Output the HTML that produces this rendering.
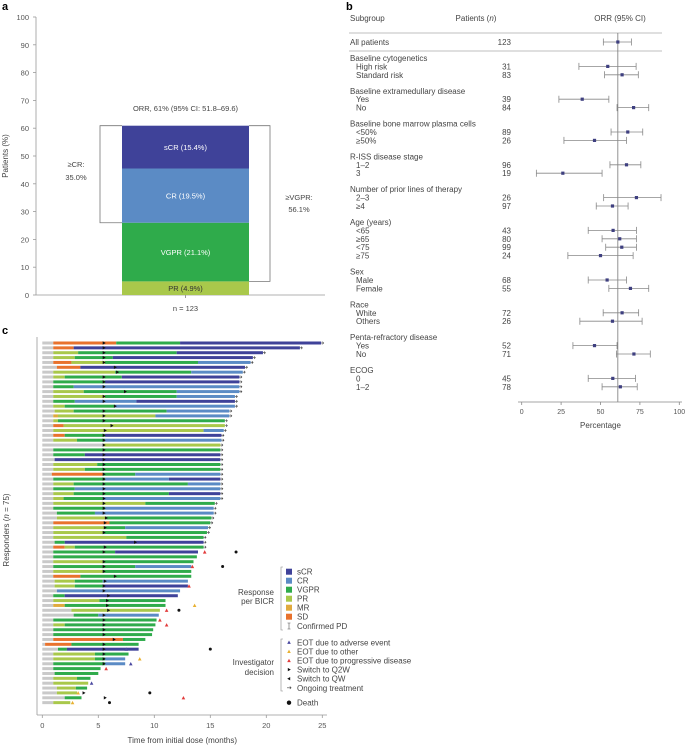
<!DOCTYPE html>
<html><head><meta charset="utf-8">
<style>
html,body{margin:0;padding:0;background:#fff;}
svg{display:block;font-family:"Liberation Sans",sans-serif;}
</style></head>
<body>
<svg id="fig" width="685" height="747" viewBox="0 0 685 747"></svg>
<script>
// ---------- Panel a data ----------
const respCats = ["PR (4.9%)","VGPR (21.1%)","CR (19.5%)","sCR (15.4%)"];
const respVals = [4.9, 21.1, 19.5, 15.4];
const respColors = ["#a9c84b","#2fab4b","#5b8bc5","#3f4299"];
const aTicks = [0,10,20,30,40,50,60,70,80,90,100];

// ---------- Panel b data ----------
const forestGroups = ["", "Baseline cytogenetics","Baseline extramedullary disease","Baseline bone marrow plasma cells","R-ISS disease stage","Number of prior lines of therapy","Age (years)","Sex","Race","Penta-refractory disease","ECOG"];
const forestLabels = [["All patients"],["High risk","Standard risk"],["Yes","No"],["<50%","≥50%"],["1–2","3"],["2–3","≥4"],["<65","≥65","<75","≥75"],["Male","Female"],["White","Others"],["Yes","No"],["0","1–2"]];
const forestN = [[123],[31,83],[39,84],[89,26],[96,19],[26,97],[43,80,99,24],[68,55],[72,26],[52,71],[45,78]];
const forestEst = [[61],[54.6,63.7],[38.4,71],[67.3,46.2],[66.5,26.1],[72.8,57.6],[58,62.2,63.5,50],[54.2,69],[63.7,57.6],[46.2,71.2],[57.8,62.6]];
const forestLo = [[51.8],[36.3,52.6],[23.6,60.5],[56.7,26.8],[56,9.3],[52,47.3],[42.2,51,53.3,29.3],[42.2,55.3],[51.7,36.9],[32.5,60.1],[42.2,51]];
const forestHi = [[69.6],[72.6,74],[55.3,80.6],[76.8,66.5],[75.6,51],[88.4,67.5],[72.8,72.8,72.8,70.7],[66.5,80.6],[74.2,76.4],[60.5,81.6],[72.2,73.3]];
const forestTicks = [0,25,50,75,100];
const forestRef = 61;

// ---------- Panel c data (segment ends in months) ----------
const swimSegments = [
"g0.98 S6.6 V12.3 X24.9","g0.98 S2.8 X23","g0.98 P3.2 V12 X19.7","g0.98 P2.9 V6.3 X18.8","g0.98 S2.6 P5.6 V13.9 C18.6",
"g1.3 S3.4 X18.1","g0.98 P6.5 V13.3 C17.9","g0.98 P2 V7.1 X17.6","g0.98 V5.6 X17.6","g0.98 V2.8 C17.6",
"g0.98 P3.7 V12 C17.6","g0.98 P5.6 V12 C17.2","g0.98 V2.9 C8.4 X17.2","g0.98 P2 V6.5 C17.2","g1.1 P2.8 V11.1 C16.7",
"g0.98 M1.4 P10.1 C16.7","g0.98 P1.4 V16.3","g0.98 S1.9 P16.3","g0.98 P14.4 C16.2","g0.98 S2 V5.6 X16",
"g0.98 P3.1 V5.6 C16","g5.5 P15.9","g0.98 V15.9","g0.98 V3.8 X15.9","g1.1 X15.9",
"g0.98 P4.9 V15.9","g0.98 P3.8 V15.9","g0.85 S5.4 V8.3 C15.9","g0.98 V5.6 C11.3 X15.9","g0.98 P2.8 V13 C15.9",
"g0.98 V2.9 C15.9","g0.98 P2.8 V11.3 X15.9","g0.98 P1.9 V5.4 C15.9","g0.98 P9.2 V15.4","g0.98 V5.6 C15.3",
"g1.3 V4.7 C15.3","g1.3 P5.7 V15.1","g0.98 S6 V15","g0.98 P5.6 V7.4 C14.8","g0.98 P5.4 V14.7",
"g0.98 P7.5 V14.4","g1.1 V2 X14.4","g0.98 S2 P2.9 V14.4","g0.98 V6.5 X13.9","g0.98 V13.8",
"g0.98 P5.4 V13.5","g0.98 V8.3 C13.3","g0.98 P5.4 V13.3","g0.98 S3.4 V13.3","g1.1 P2.9 V5.4 C13",
"g1.1 P2.9 V5.4 X13","g1.3 C12.3","g0.98 V2 X12.1","g0.98 P5.1 V11","g0.98 M2 V11",
"g2.6 P10.5","g2.8 V5 C10.4","g0.98 V10.2","g0.98 P2 V10.1","g0.98 V9.9",
"g0.98 V9.8","g0.98 S7.2 V9.2","g0.25 S2.6 V8.6","g1.4 V2.2 X8.6","g0.98 P4.7 V7.7",
"g0.98 P4.7 V5.6 C7.4","g0.98 V5.6 C7.4","g0.98 V5.2","g1.1 V5","g0.98 P3.1 V4.3",
"g0.98 P4.1","g1.3 P3 V4","g1.3 P3.1","g2 V3.5","g0.98 P2.5"
];
const swimOngoing = [1,1,1,1,1,1,1,1,1,1,1,1,1,1,1,1,1,1,1,1,1,1,1,1,1,1,1,1,1,1,1,1,1,1,1,1,1,1,1,1,1,1,1,0,0,0,0,0,0,0,0,0,0,0,0,0,0,0,0,0,0,0,0,0,0,0,0,0,0,0,0,0,0,0,0];
const swimQ2W = [5.5,5.5,5.5,5.5,5.5,6.5,6.7,5.5,5.5,5.5,7.4,5.5,5.5,6.5,5.5,5.5,5.5,6.2,5.6,5.5,5.5,5.5,5.5,5.5,5.5,5.5,5.5,5.5,5.5,5.5,5.5,5.5,5.5,5.5,5.5,5.5,5.7,5.6,5.6,5.5,null,8.3,5.6,5.5,null,5.5,5.5,5.5,6.5,5.6,5.5,5.5,5.9,5.8,5.8,5.9,5.5,5.5,5.5,5.5,5.5,6.4,5.5,5.5,5.5,5.5,5.5,null,null,null,null,null,3.7,5.6,null];
const eotRows = [44,47,51,55,56,58,59,64,66,67,68,71,73,74,75];
const eotMonths = [14.5,13.4,13.1,13.6,11.1,10.5,11.1,7.5,8.7,7.9,5.7,4.4,3.2,12.6,2.7];
const eotTypes = ["pd","pd","pd","other","pd","pd","pd","ae","other","ae","pd","ae","other","pd","other"];
const deathRows = [44,47,56,64,73,75];
const deathMonths = [17.3,16.1,12.2,15,9.6,6];
const cTicks = [0,5,10,15,20,25];

const NS="http://www.w3.org/2000/svg";
const svg=document.getElementById('fig');
function el(tag,attrs,parent){const e=document.createElementNS(NS,tag);for(const k in attrs)e.setAttribute(k,attrs[k]);(parent||svg).appendChild(e);return e;}
function txt(s,x,y,attrs,parent){const t=el('text',Object.assign({x:x,y:y,'font-size':8,fill:'#333'},attrs||{}),parent);t.textContent=s;return t;}

// panel letters
let L=txt('a',2,10,{'font-size':11,'font-weight':'bold',fill:'#000'});


L=txt('b',346,10,{'font-size':11,'font-weight':'bold',fill:'#000'});


L=txt('c',2,334,{'font-size':11,'font-weight':'bold',fill:'#000'});



// ---------- Panel a ----------
const gA=el('g',{});


function ya(v){return 295-v*2.78;}
const axA=el('line',{x1:36,y1:ya(100),x2:36,y2:295,stroke:'#999','stroke-width':0.8},gA);


const axAx=el('line',{x1:36,y1:295,x2:325,y2:295,stroke:'#999','stroke-width':0.8},gA);


aTicks.forEach(t=>{
  el('line',{x1:33,y1:ya(t),x2:36,y2:ya(t),stroke:'#999','stroke-width':0.8},gA);
  const tl=txt(String(t),29,ya(t)+3,{'text-anchor':'end','font-size':7.5,fill:'#555'},gA);
  
  
});
let yt=txt('Patients (%)',0,0,{'font-size':8,fill:'#444','text-anchor':'middle',transform:'translate(8,156) rotate(-90)'},gA);


let cum=0;
respVals.forEach((v,i)=>{
  const r=el('rect',{x:122,y:ya(cum+v),width:127,height:ya(cum)-ya(cum+v),fill:respColors[i]},gA);
  
  
  const t=txt(respCats[i],185.5,(ya(cum)+ya(cum+v))/2+3,{'text-anchor':'middle','font-size':7.5,fill:i==0?'#333':'#fff'},gA);
  
  
  cum+=v;
});
el('line',{x1:185.5,y1:295,x2:185.5,y2:298,stroke:'#999'},gA);
let nl=txt('n = 123',185.5,311,{'text-anchor':'middle','font-size':7.5,fill:'#444'},gA);


const totalResp=respVals.reduce((a,b)=>a+b,0);
const crTop=respVals[0]+respVals[1];
let br=el('path',{d:`M122,${ya(totalResp)} H100 V${ya(crTop)} H122`,fill:'none',stroke:'#777','stroke-width':0.8},gA);


br=el('path',{d:`M249,${ya(totalResp)} H270 V${ya(respVals[0])} H249`,fill:'none',stroke:'#777','stroke-width':0.8},gA);


let t1=txt('ORR, 61% (95% CI: 51.8–69.6)',185.5,111,{'text-anchor':'middle','font-size':7.5,fill:'#444'},gA);


t1=txt('≥CR:',76,167,{'text-anchor':'middle','font-size':7.5,fill:'#444'},gA);


txt('35.0%',76,180,{'text-anchor':'middle','font-size':7.5,fill:'#444'},gA);
t1=txt('≥VGPR:',299,200,{'text-anchor':'middle','font-size':7.5,fill:'#444'},gA);


txt('56.1%',299,212,{'text-anchor':'middle','font-size':7.5,fill:'#444'},gA);

// ---------- Panel b ----------
const gB=el('g',{});


function fx(v){return 521.7+v*1.576;}
let h=txt('Subgroup',350,21,{'font-size':8,fill:'#444'},gB);


h=el('text',{x:476,y:21,'font-size':8,fill:'#444','text-anchor':'middle'},gB);
h.innerHTML='Patients (<tspan font-style="italic">n</tspan>)';


h=txt('ORR (95% CI)',620,21,{'font-size':8,fill:'#444','text-anchor':'middle'},gB);


el('line',{x1:349,y1:33,x2:662,y2:33,stroke:'#aaa','stroke-width':0.7},gB);
el('line',{x1:349,y1:51,x2:662,y2:51,stroke:'#aaa','stroke-width':0.7},gB);
const refL=el('line',{x1:fx(forestRef),y1:33,x2:fx(forestRef),y2:402,stroke:'#777','stroke-width':0.8},gB);


let yy=42;
forestGroups.forEach((g,gi)=>{
  if(gi>0){yy+=16;
    const gh=txt(g,350,yy+3,{'font-size':8,fill:'#444'},gB);
    
    
    yy+=8.4;}
  forestLabels[gi].forEach((lab,j)=>{
    if(j>0)yy+=8.4;
    const lt=txt(lab,gi==0?350:356,yy+3,{'font-size':8,fill:'#444'},gB);
    
    
    const nt=txt(String(forestN[gi][j]),511,yy+3,{'font-size':8,fill:'#444','text-anchor':'end'},gB);
    
    
    const ci=el('path',{d:`M${fx(forestLo[gi][j])},${yy-3.5}V${yy+3.5}M${fx(forestLo[gi][j])},${yy}H${fx(forestHi[gi][j])}M${fx(forestHi[gi][j])},${yy-3.5}V${yy+3.5}`,stroke:'#888',fill:'none','stroke-width':0.8},gB);
    
    
    const pt=el('rect',{x:fx(forestEst[gi][j])-1.6,y:yy-1.6,width:3.2,height:3.2,fill:'#3f4080'},gB);
    
    
  });
});
const fax=el('line',{x1:518,y1:402,x2:682,y2:402,stroke:'#888','stroke-width':0.8},gB);


forestTicks.forEach(t=>{
  el('line',{x1:fx(t),y1:402,x2:fx(t),y2:405,stroke:'#888','stroke-width':0.8},gB);
  const tl=txt(String(t),fx(t),414,{'text-anchor':'middle','font-size':7,fill:'#555'},gB);
  
  
});
h=txt('Percentage',fx(50),428,{'text-anchor':'middle','font-size':8,fill:'#444'},gB);



// ---------- Panel c ----------
const gC=el('g',{});


const segColors={g:'#c9c9c9',S:'#e8722d',M:'#e0aa3e',P:'#a9c84b',V:'#2fab4b',C:'#5b8bc5',X:'#3f4299'};
function xc(m){return 42.3+m*11.2;}
function ry(i){return 343+i*4.86;}
let ax=el('line',{x1:37,y1:337,x2:37,y2:715,stroke:'#999','stroke-width':0.8},gC);


ax=el('line',{x1:37,y1:715,x2:327,y2:715,stroke:'#999','stroke-width':0.8},gC);


cTicks.forEach(t=>{
  el('line',{x1:xc(t),y1:715,x2:xc(t),y2:718,stroke:'#999','stroke-width':0.8},gC);
  const tl=txt(String(t),xc(t),728,{'text-anchor':'middle','font-size':7.5,fill:'#555'},gC);
  
  
});
h=txt('Time from initial dose (months)',xc(12.5),743,{'text-anchor':'middle','font-size':8,fill:'#444'},gC);


h=el('text',{'font-size':8,fill:'#444','text-anchor':'middle',transform:'translate(9,530) rotate(-90)'},gC);
h.innerHTML='Responders (<tspan font-style="italic">n</tspan> = 75)';


function tri(cx,cy,dir,fill,parent){
  let d;
  if(dir=='up')d=`M${cx-1.8},${cy+1.6}L${cx+1.8},${cy+1.6}L${cx},${cy-1.8}Z`;
  else if(dir=='right')d=`M${cx-1.2},${cy-1.7}L${cx+1.8},${cy}L${cx-1.2},${cy+1.7}Z`;
  else d=`M${cx+1.2},${cy-1.7}L${cx-1.8},${cy}L${cx+1.2},${cy+1.7}Z`;
  return el('path',{d:d,fill:fill},parent);
}
swimSegments.forEach((s,i)=>{
  const y=ry(i);
  const row=el('g',{},gC);
  
  
  let start=0, end=0;
  s.split(' ').forEach(p=>{
    const c=p[0]; end=parseFloat(p.slice(1));
    const r=el('rect',{x:xc(start),y:y-1.5,width:xc(end)-xc(start),height:3,fill:segColors[c]},row);
    
    
    start=end;
  });
  if(swimOngoing[i]){
    const a=el('path',{d:`M${xc(end)},${y}h2.5M${xc(end)+1.2},${y-1.3}l1.3,1.3l-1.3,1.3`,stroke:'#444','stroke-width':0.6,fill:'none'},row);
    
    
  }
  if(swimQ2W[i]!=null){
    const q=tri(xc(swimQ2W[i]),y,'right','#111',row);
    
    
  }
});
const eotColors={ae:'#4a48a0',other:'#e8b030',pd:'#e23b3b'};
eotRows.forEach((r,k)=>{
  const m=tri(xc(eotMonths[k]),ry(r-1),'up',eotColors[eotTypes[k]],gC);
  
  
});
deathRows.forEach((r,k)=>{
  const d=el('circle',{cx:xc(deathMonths[k]),cy:ry(r-1),r:1.5,fill:'#111'},gC);
  
  
});

// legend
const gL=el('g',{});


const legNames=['sCR','CR','VGPR','PR','MR','SD'];
const legCodes=['X','C','V','P','M','S'];
legNames.forEach((n,i)=>{
  const y=571.7+i*9;
  const r=el('rect',{x:286,y:y-3,width:6,height:6,fill:segColors[legCodes[i]]},gL);
  
  
  const t=txt(n,297,y+3,{'font-size':8,fill:'#444'},gL);
  
  
});
el('path',{d:'M289,623v6M287.5,623h3M287.5,629h3',stroke:'#555','stroke-width':0.6,fill:'none'},gL);
let lt=txt('Confirmed PD',297,629,{'font-size':8,fill:'#444'},gL);


el('path',{d:'M283,567h-2v63h2',stroke:'#888','stroke-width':0.6,fill:'none'},gL);
lt=txt('Response',274,595,{'font-size':8,fill:'#444','text-anchor':'end'},gL);


txt('per BICR',274,604,{'font-size':8,fill:'#444','text-anchor':'end'},gL);
const invNames=['EOT due to adverse event','EOT due to other','EOT due to progressive disease','Switch to Q2W','Switch to QW','Ongoing treatment'];
invNames.forEach((n,i)=>{
  const y=642.3+i*9.1;
  let m;
  if(i<3)m=tri(289,y,'up',[eotColors.ae,eotColors.other,eotColors.pd][i],gL);
  else if(i==3)m=tri(289,y,'right','#111',gL);
  else if(i==4)m=tri(289,y,'left','#111',gL);
  else m=el('path',{d:`M287,${y}h4M289.8,${y-1.3}l1.3,1.3l-1.3,1.3`,stroke:'#444','stroke-width':0.6,fill:'none'},gL);
  
  
  const t=txt(n,297,y+3,{'font-size':8,fill:'#444'},gL);
  
  
});
el('path',{d:'M283,639h-2v52h2',stroke:'#888','stroke-width':0.6,fill:'none'},gL);
lt=txt('Investigator',274,665,{'font-size':8,fill:'#444','text-anchor':'end'},gL);


txt('decision',274,675,{'font-size':8,fill:'#444','text-anchor':'end'},gL);
let dm=el('circle',{cx:289,cy:702.7,r:2.2,fill:'#111'},gL);


lt=txt('Death',297,705.7,{'font-size':8,fill:'#444'},gL);


</script>
</body></html>
